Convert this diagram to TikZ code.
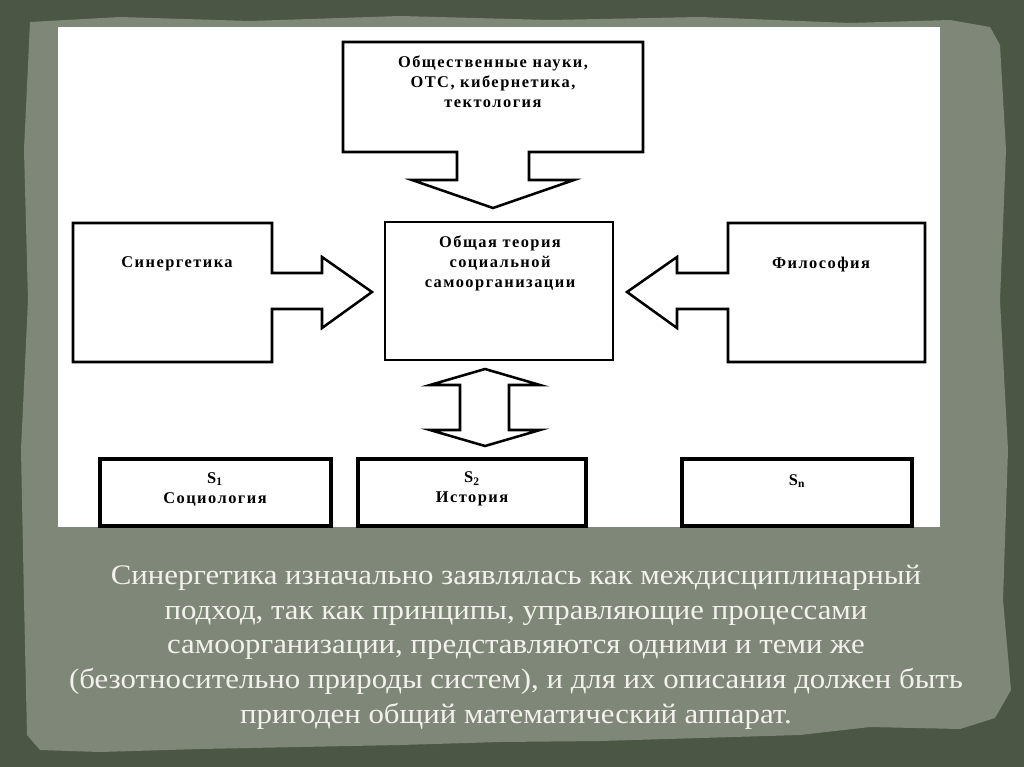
\documentclass[tikz,border=0pt]{standalone}
\usepackage{fontspec}
\setmainfont{Liberation Serif}
\newfontfamily\diafont{Liberation Serif Bold}[LetterSpace=9]
\newfontfamily\parafont{Liberation Serif}[FakeStretch=1.09]
\usetikzlibrary{calc}
\definecolor{felt}{HTML}{4C5644}
\definecolor{paper}{HTML}{7F8778}
\definecolor{chalk}{HTML}{F2F2EC}
\tikzset{
  panel/.style={inner sep=0pt,outer sep=0pt},
  cell/.style={panel,draw=black,line width=2.2pt},
  slot/.style={panel,draw=black,line width=2.8pt,minimum height=50.25pt},
  outline/.style={draw=black,line width=1.9pt,line join=miter},
  lbl/.style={font=\diafont\fontsize{12.3}{15}\selectfont,align=center,inner sep=0pt},
  para/.style={font=\parafont\fontsize{21.2}{26}\selectfont,text=chalk,align=center,inner sep=0pt}
}
\begin{document}
\begin{tikzpicture}[x=0.75pt,y=-0.75pt]
  % background and torn paper
  \fill[felt] (0,0) rectangle (1024,767);
  \fill[paper] (30,22) -- (120,17) -- (250,21) -- (400,16) -- (550,20) -- (700,17) -- (850,23) -- (950,20) -- (990,27)
    -- (1000,45) -- (1006,150) -- (1000,300) -- (1008,450) -- (1003,600) -- (1011,690) -- (995,718)
    -- (960,729) -- (870,727) -- (800,735) -- (700,738) -- (600,741) -- (500,742) -- (400,745) -- (300,747) -- (200,749) -- (100,752) -- (40,750)
    -- (27,735) -- (24,600) -- (21,450) -- (28,300) -- (24,150) -- cycle;
  \fill[white] (58,27) rectangle (940,527);

  % boxes
  \node[panel,minimum width=225pt,minimum height=82.5pt] (obsh) at (493,97) {};
  \node[cell,minimum width=171pt,minimum height=103.5pt] (teor) at (499,291) {};
  \node[panel,minimum width=149.25pt,minimum height=104.25pt] (syn) at (172.5,292.5) {};
  \node[panel,minimum width=147.75pt,minimum height=104.25pt] (fil) at (826.5,292.5) {};
  \node[slot,minimum width=173.25pt] (s1) at (215.5,492.5) {};
  \node[slot,minimum width=171pt] (s2) at (472,492.5) {};
  \node[slot,minimum width=172.5pt] (sn) at (797,492.5) {};

  % labels
  \node[lbl] (obshtxt) at (493,82) {Общественные науки,\\ОТС, кибернетика,\\тектология};
  \node[lbl] (teortxt) at (500,263) {Общая теория\\социальной\\самоорганизации};
  \node[lbl] (syntxt) at (177,264) {Синергетика};
  \node[lbl] (filtxt) at (821,265) {Философия};
  \node[lbl] (s1txt) at (215,489) {S\textsubscript{1}\\Социология};
  \node[lbl] (s2txt) at (472,489) {S\textsubscript{2}\\История};
  \node[lbl] (sntxt) at (797,481) {S\textsubscript{n}};

  % boxes with block arrows
  \draw[outline] (obsh.south east) -- (obsh.north east) -- (obsh.north west) -- (obsh.south west)
    -- ++(114,0) -- ++(0,28) -- ++(-45,0) -- ++(81,28) -- ++(81,-28) -- ++(-45,0) -- ++(0,-28) -- cycle;
  \draw[outline] (syn.north east) -- (syn.north west) -- (syn.south west) -- (syn.south east)
    -- ++(0,-53) -- ++(50,0) -- ++(0,19) -- ++(50,-36) -- ++(-50,-35) -- ++(0,16) -- ++(-50,0) -- cycle;
  \draw[outline] (fil.north west) -- (fil.north east) -- (fil.south east) -- (fil.south west)
    -- ++(0,-53) -- ++(-51,0) -- ++(0,19) -- ++(-50,-36) -- ++(50,-35) -- ++(0,16) -- ++(51,0) -- cycle;
  \coordinate (dtop) at ($(teor.south)+(-14,9)$);
  \draw[outline] (dtop) -- ++(55,16) -- ++(-31,0) -- ++(0,45) -- ++(31,0) -- ++(-55,16)
    -- ++(-55,-16) -- ++(30,0) -- ++(0,-45) -- ++(-30,0) -- cycle;

  \node[para] (note) at (516,647) {Синергетика изначально заявлялась как междисциплинарный\\
    подход, так как принципы, управляющие процессами\\
    самоорганизации, представляются одними и теми же\\
    (безотносительно природы систем), и для их описания должен быть\\
    пригоден общий математический аппарат.};
\end{tikzpicture}
\end{document}
